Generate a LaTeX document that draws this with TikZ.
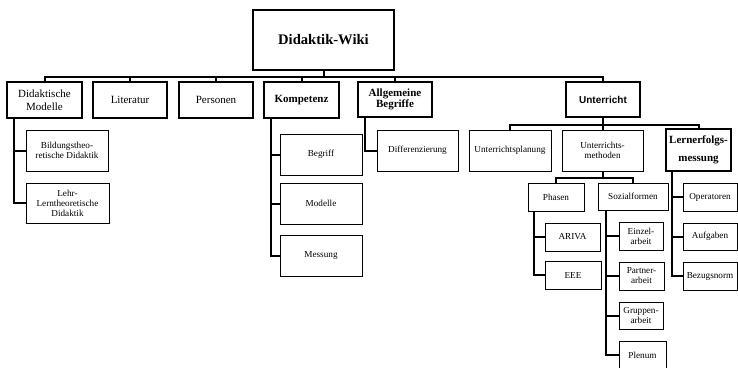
\documentclass[tikz,border=0pt]{standalone}
\usepackage{fontspec}
\setmainfont{Liberation Serif}
\newfontfamily\sansb{Liberation Sans}
\begin{document}
\begin{tikzpicture}[x=1pt,y=-1pt,
  bxa/.style={draw=black,line width=1.4pt,inner sep=0pt,align=center,font=\fontsize{11}{12.5}\selectfont},
  bxb/.style={draw=black,line width=0.9pt,inner sep=0pt,align=center,font=\fontsize{9.2}{10}\selectfont},
  conn/.style={draw=black,line width=2pt}]
\useasboundingbox (0,0) rectangle (738,367);
\clip (0,0) rectangle (738,367);
% root
\node[bxa,line width=1.6pt,minimum width=141pt,minimum height=60pt,font=\fontsize{14.6}{16}\selectfont\bfseries] (root) at (323.5,40) {Didaktik-Wiki};
% level 1
\node[bxa,minimum width=75pt,minimum height=36pt] (dm) at (44.5,100) {Didaktische\\Modelle};
\node[bxa,minimum width=74pt,minimum height=36pt] (lit) at (130,100) {Literatur};
\node[bxa,minimum width=74pt,minimum height=36pt] (pers) at (216,100) {Personen};
\node[bxa,minimum width=75pt,minimum height=36pt,font=\fontsize{11}{12.5}\selectfont\bfseries] (komp) at (301.5,100) {Kompetenz};
\node[bxa,minimum width=74pt,minimum height=35pt,font=\fontsize{11}{11.5}\selectfont\bfseries] (allg) at (395,99.5) {Allgemeine\\Begriffe};
\node[bxa,minimum width=74pt,minimum height=35pt,font=\fontsize{10}{12}\sansb\bfseries] (unt) at (603,99.5) {Unterricht};
% Didaktische Modelle children
\node[bxb,minimum width=82pt,minimum height=41pt] (bild) at (67,150.5) {Bildungstheo-\\retische Didaktik};
\node[bxb,minimum width=83pt,minimum height=40pt] (lehr) at (67.5,203) {Lehr-\\Lerntheoretische\\Didaktik};
% Kompetenz children
\node[bxb,minimum width=82pt,minimum height=41pt] (begr) at (321,154.5) {Begriff};
\node[bxb,minimum width=82pt,minimum height=41pt] (mod) at (321,203.5) {Modelle};
\node[bxb,minimum width=82pt,minimum height=41pt] (mess) at (321,255.5) {Messung};
% Allgemeine Begriffe child
\node[bxb,minimum width=81pt,minimum height=41pt] (diff) at (417.5,150.5) {Differenzierung};
% Unterricht children
\node[bxb,minimum width=82pt,minimum height=41pt] (uplan) at (510,150.5) {Unterrichtsplanung};
\node[bxb,minimum width=81pt,minimum height=41pt] (umeth) at (602.5,150.5) {Unterrichts-\\methoden};
\node[bxa,minimum width=65pt,minimum height=42pt,font=\fontsize{11}{18}\selectfont\bfseries] (lern) at (698.5,150) {Lernerfolgs-\\messung};
% Unterrichtsmethoden children
\node[bxb,minimum width=56pt,minimum height=28pt] (phas) at (556,197) {Phasen};
\node[bxb,minimum width=70pt,minimum height=27pt] (soz) at (633,196.5) {Sozialformen};
% Lernerfolgsmessung children
\node[bxb,minimum width=54pt,minimum height=28pt] (oper) at (710,197) {Operatoren};
\node[bxb,minimum width=54pt,minimum height=27pt] (aufg) at (710,236.5) {Aufgaben};
\node[bxb,minimum width=54pt,minimum height=28pt] (bez) at (710,276) {Bezugsnorm};
% Phasen children
\node[bxb,minimum width=55pt,minimum height=28pt] (ariva) at (572.5,237) {ARIVA};
\node[bxb,minimum width=56pt,minimum height=28pt] (eee) at (573,275) {EEE};
% Sozialformen children
\node[bxb,minimum width=44pt,minimum height=28pt] (einz) at (641,236) {Einzel-\\arbeit};
\node[bxb,minimum width=45pt,minimum height=28pt] (part) at (641.5,276) {Partner-\\arbeit};
\node[bxb,minimum width=44pt,minimum height=27pt] (grup) at (641,315.5) {Gruppen-\\arbeit};
\node[bxb,minimum width=47pt,minimum height=34pt] (plen) at (642.5,358) {};
\node[font=\fontsize{9.2}{10}\selectfont,inner sep=0pt] (plent) at (642.5,355) {Plenum};
% connectors: root
\foreach \c in {dm,lit,pers,komp,allg,unt}
  \draw[conn] (root.south) -- ++(0,6) -| (\c.north);
% Didaktische Modelle
\foreach \c in {bild,lehr}
  \draw[conn] ([xshift=8pt]dm.south west) |- (\c.west);
% Kompetenz
\foreach \c in {begr,mod,mess}
  \draw[conn] ([xshift=8pt]komp.south west) |- (\c.west);
% Allgemeine Begriffe
\draw[conn] ([xshift=8pt]allg.south west) |- (diff.west);
% Unterricht
\foreach \c in {uplan,umeth,lern}
  \draw[conn] (unt.south) -- ++(0,7) -| (\c.north);
% Unterrichtsmethoden
\foreach \c in {phas,soz}
  \draw[conn] (umeth.south) -- ++(0,7) -| (\c.north);
% Lernerfolgsmessung
\foreach \c in {oper,aufg,bez}
  \draw[conn] ([xshift=7pt]lern.south west) |- (\c.west);
% Phasen
\foreach \c in {ariva,eee}
  \draw[conn] ([xshift=6pt]phas.south west) |- (\c.west);
% Sozialformen
\foreach \c in {einz,part,grup}
  \draw[conn] ([xshift=8pt]soz.south west) |- (\c.west);
\draw[conn] ([xshift=8pt]soz.south west) |- (plen.west |- plent);
\end{tikzpicture}
\end{document}
